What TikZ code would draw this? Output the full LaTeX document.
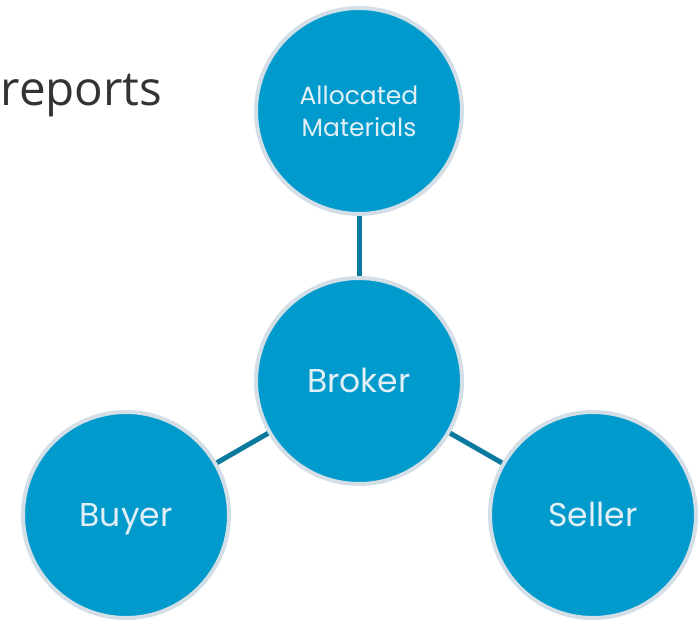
\documentclass[tikz,border=0pt]{standalone}
\usepackage{fontspec}
\setmainfont{Poppins}
\newfontfamily\repfont{Open Sans}
\definecolor{cfill}{HTML}{009BCC}
\definecolor{cborder}{HTML}{D4DEE6}
\definecolor{cline}{HTML}{0C7A9E}
\definecolor{ctext}{HTML}{E2EFF6}
\definecolor{cgray}{HTML}{333333}
\begin{document}
\begin{tikzpicture}[x=1pt,y=-1pt,
  bub/.style={circle,fill=cfill,draw=cborder,line width=4pt,minimum size=206pt,inner sep=0pt,text=ctext,align=center},
  big/.style={font=\fontsize{33}{38}\selectfont,text height=23pt,text depth=0pt},
  link/.style={draw=cline,line width=5pt}]
\useasboundingbox (0,0) rectangle (700,620);
\node[anchor=base west,text=cgray,font=\repfont\fontsize{47.5}{56}\selectfont,inner sep=0pt] (rep) at (0.5,106) {reports};
\node[bub,font=\fontsize{25}{32}\selectfont] (alloc) at (359,111) {Allocated\\Materials};
\node[bub,big] (broker) at (359,381) {Broker};
\node[bub,big] (buyer) at (126,515) {Buyer};
\node[bub,big] (seller) at (593,515) {Seller};
\draw[link] (alloc) -- (broker);
\draw[link] (broker) -- (buyer);
\draw[link] (broker) -- (seller);
\end{tikzpicture}
\end{document}
